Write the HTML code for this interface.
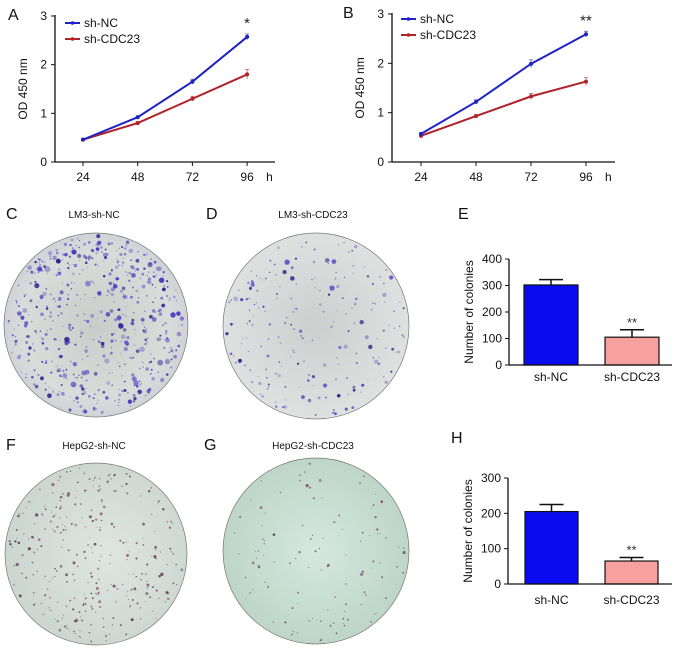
<!DOCTYPE html>
<html><head><meta charset="utf-8"><style>
html,body{margin:0;padding:0;background:#fff;}
svg{display:block;font-family:"Liberation Sans",Arial,sans-serif;}
</style></head><body>
<svg id="fig" width="677" height="649" viewBox="0 0 677 649" xmlns="http://www.w3.org/2000/svg">
<defs>
<radialGradient id="gC" cx="50%" cy="50%" r="50%"><stop offset="0" stop-color="#c9ccc9"/><stop offset="0.8" stop-color="#dadcda"/><stop offset="1" stop-color="#d0d2d8"/></radialGradient>
<radialGradient id="gD" cx="50%" cy="50%" r="50%"><stop offset="0" stop-color="#cdcfcf"/><stop offset="1" stop-color="#dfe0e0"/></radialGradient>
<radialGradient id="gF" cx="55%" cy="50%" r="50%"><stop offset="0" stop-color="#dfe6e1"/><stop offset="1" stop-color="#cdd7d1"/></radialGradient>
<radialGradient id="gG" cx="50%" cy="50%" r="50%"><stop offset="0" stop-color="#d6e8de"/><stop offset="1" stop-color="#bdd6c8"/></radialGradient>
</defs>
<g id="root"></g>
</svg>
<script>
// Panel A data
const hours = ["24","48","72","96"];
const aNC = [0.46, 0.92, 1.65, 2.57];
const aNCerr = [0.02, 0.03, 0.05, 0.06];
const aKD = [0.46, 0.80, 1.30, 1.80];
const aKDerr = [0.02, 0.03, 0.05, 0.10];
// Panel B data
const bNC = [0.57, 1.22, 1.99, 2.59];
const bNCerr = [0.02, 0.04, 0.08, 0.06];
const bKD = [0.53, 0.93, 1.33, 1.63];
const bKDerr = [0.02, 0.03, 0.06, 0.08];
const odTicks = [0, 1, 2, 3];
// Panels E and H data
const groups = ["sh-NC", "sh-CDC23"];
const eVals = [302, 105];
const eErr = [20, 28];
const eTicks = [0, 100, 200, 300, 400];
const hVals = [205, 65];
const hErr = [20, 10];
const hTicks = [0, 100, 200, 300];

const NS = "http://www.w3.org/2000/svg";
const root = document.getElementById('root');
function mk(tag, attrs, parent, txt){
  const e = document.createElementNS(NS, tag);
  for (const k in attrs) e.setAttribute(k, attrs[k]);
  if (txt !== undefined) e.textContent = txt;
  (parent || root).appendChild(e);
  return e;
}
function label(x, y, t, name, size, anchor){
  const e = mk('text', {x:x, y:y, 'font-size':size||12, 'text-anchor':anchor||'start', fill:'#111'}, root, t);
  
  
  return e;
}

function lineChart(id, ax0, axEnd, y0, y3, xPos, nc, ncE, kd, kdE, star, legX, legY){
  const g = mk('g', {});
  
  
  const ys = v => y0 + (y3 - y0) * v / 3;
  const xs = i => xPos[0] + (xPos[1] - xPos[0]) * i;
  mk('line', {x1:ax0, y1:y3-1, x2:ax0, y2:y0, stroke:'#111', 'stroke-width':1.3}, g);
  mk('line', {x1:ax0, y1:y0, x2:axEnd, y2:y0, stroke:'#111', 'stroke-width':1.3}, g);
  odTicks.forEach(t => {
    mk('line', {x1:ax0-4, y1:ys(t), x2:ax0, y2:ys(t), stroke:'#111'}, g);
    const tl = mk('text', {x:ax0-8, y:ys(t)+4, 'font-size':12, 'text-anchor':'end', fill:'#111'}, g, String(t));
    
    
  });
  hours.forEach((h, i) => {
    mk('line', {x1:xs(i), y1:y0, x2:xs(i), y2:y0+4, stroke:'#111'}, g);
    const tl = mk('text', {x:xs(i), y:y0+19, 'font-size':12, 'text-anchor':'middle', fill:'#111'}, g, h);
    
    
  });
  const hl = mk('text', {x:xs(3)+19, y:y0+19, 'font-size':12, fill:'#111'}, g, 'h');
  
  
  const yt = mk('text', {x:0, y:0, 'font-size':12, 'text-anchor':'middle', fill:'#111', transform:`translate(${ax0-28},${(y0+y3)/2}) rotate(-90)`}, g, 'OD 450 nm');
  
  
  [[kd, kdE, '#b22028', 'sh-cdc23'], [nc, ncE, '#1f22c4', 'sh-nc']].forEach(([vals, err, col, nm]) => {
    const pts = vals.map((v, i) => xs(i) + ',' + ys(v)).join(' ');
    const pl = mk('polyline', {points:pts, fill:'none', stroke:col, 'stroke-width':2}, g);
    
    
    vals.forEach((v, i) => {
      mk('line', {x1:xs(i), y1:ys(v+err[i]), x2:xs(i), y2:ys(v-err[i]), stroke:col, 'stroke-width':0.8, opacity:0.7}, g);
      mk('line', {x1:xs(i)-2, y1:ys(v+err[i]), x2:xs(i)+2, y2:ys(v+err[i]), stroke:col, 'stroke-width':0.8, opacity:0.7}, g);
      const p = mk('circle', {cx:xs(i), cy:ys(v), r:2, fill:col}, g);
      
      
    });
  });
  const st = mk('text', {x:xs(3), y:ys(nc[3]+ncE[3])-6, 'font-size':15, 'text-anchor':'middle', fill:'#222'}, g, star);
  
  
  [['sh-NC', '#1f22c4', 0], ['sh-CDC23', '#b22028', 16]].forEach(([t, col, dy]) => {
    mk('line', {x1:legX, y1:legY+dy, x2:legX+15, y2:legY+dy, stroke:col, 'stroke-width':2}, g);
    mk('circle', {cx:legX+7.5, cy:legY+dy, r:1.8, fill:col}, g);
    const le = mk('text', {x:legX+19, y:legY+dy+4, 'font-size':12, fill:'#111'}, g, t);
    
    
  });
}

function barChart(id, ax0, axEnd, y0, yTop, maxV, ticks, vals, err, barX, barW, labY){
  const g = mk('g', {});
  
  
  const ys = v => y0 + (yTop - y0) * v / maxV;
  const cols = ['#0b0bf0', '#f8a0a0'];
  vals.forEach((v, i) => {
    const b = mk('rect', {x:barX[i], y:ys(v), width:barW, height:y0-ys(v), fill:cols[i], stroke:'#111', 'stroke-width':1.2}, g);
    
    
    const cx = barX[i] + barW/2;
    mk('line', {x1:cx, y1:ys(v), x2:cx, y2:ys(v+err[i]), stroke:'#111', 'stroke-width':1.5}, g);
    mk('line', {x1:cx-12, y1:ys(v+err[i]), x2:cx+12, y2:ys(v+err[i]), stroke:'#111', 'stroke-width':1.5}, g);
    const xl = mk('text', {x:cx, y:labY, 'font-size':12, 'text-anchor':'middle', fill:'#111'}, g, groups[i]);
    
    
    if (i === 1) {
      const st = mk('text', {x:cx, y:ys(v+err[i])-3, 'font-size':13, 'text-anchor':'middle', fill:'#333'}, g, '**');
      
      
    }
  });
  mk('line', {x1:ax0, y1:yTop, x2:ax0, y2:y0, stroke:'#111', 'stroke-width':1.3}, g);
  mk('line', {x1:ax0, y1:y0, x2:axEnd, y2:y0, stroke:'#111', 'stroke-width':1.3}, g);
  ticks.forEach(t => {
    mk('line', {x1:ax0-4, y1:ys(t), x2:ax0, y2:ys(t), stroke:'#111'}, g);
    const tl = mk('text', {x:ax0-7, y:ys(t)+4, 'font-size':12, 'text-anchor':'end', fill:'#111'}, g, String(t));
    
    
  });
  const yt = mk('text', {x:0, y:0, 'font-size':12, 'text-anchor':'middle', fill:'#111', transform:`translate(${ax0-36},${(y0+yTop)/2}) rotate(-90)`}, g, 'Number of colonies');
  
  
}

lineChart('panel-a', 55, 275, 162, 16, [83, 137.7], aNC, aNCerr, aKD, aKDerr, '*', 65, 23);
lineChart('panel-b', 392, 615, 162, 14, [421, 476], bNC, bNCerr, bKD, bKDerr, '**', 401, 19);
barChart('panel-e', 509, 672, 365, 259, 400, eTicks, eVals, eErr, [524, 605], 54, 381);
barChart('panel-h', 508, 672, 584, 478, 300, hTicks, hVals, hErr, [525, 605], 53, 604);

// Plate photos (decorative)
let seed = 7;
function rnd(){ seed = (seed * 16807) % 2147483647; return seed / 2147483647; }
function plate(name, cx, cy, r, fill, n, dotCols, maxR, edgeBias){
  const g = mk('g', {});
  
  
  mk('circle', {cx:cx, cy:cy, r:r, fill:fill, stroke:'#777', 'stroke-width':0.7}, g);
  for (let i = 0; i < n; i++) {
    let a = rnd() * Math.PI * 2;
    let d = Math.pow(rnd(), edgeBias) * (r - 3);
    const col = dotCols[Math.floor(rnd() * dotCols.length)];
    mk('circle', {cx:cx + d*Math.cos(a), cy:cy + d*Math.sin(a), r:0.5 + rnd()*rnd()*maxR, fill:col, opacity:0.5 + rnd()*0.5}, g);
  }
}
plate('plate-lm3-sh-nc', 96, 325, 92, 'url(#gC)', 560, ['#4a3cc0', '#6a5cc8', '#2a2490', '#8a80c8'], 2.6, 0.4);
plate('plate-lm3-sh-cdc23', 316, 326, 93, 'url(#gD)', 220, ['#4a3cc0', '#6a5cc8', '#2a2490', '#9890c8'], 2.2, 0.45);
plate('plate-hepg2-sh-nc', 96, 554, 91, 'url(#gF)', 300, ['#6a4060', '#8a5070', '#504050'], 1.4, 0.5);
plate('plate-hepg2-sh-cdc23', 316, 551, 93, 'url(#gG)', 110, ['#6a4060', '#504050', '#8a5070'], 1.3, 0.5);

label(8, 20, 'A', 'panel-label-a', 16);
label(343, 18, 'B', 'panel-label-b', 16);
label(6, 219, 'C', 'panel-label-c', 16);
label(206, 219, 'D', 'panel-label-d', 16);
label(458, 219, 'E', 'panel-label-e', 16);
label(6, 450, 'F', 'panel-label-f', 16);
label(204, 450, 'G', 'panel-label-g', 16);
label(451, 443, 'H', 'panel-label-h', 16);
label(94, 218, 'LM3-sh-NC', 'plate-title-lm3-sh-nc', 10, 'middle');
label(313, 218, 'LM3-sh-CDC23', 'plate-title-lm3-sh-cdc23', 10, 'middle');
label(94, 449, 'HepG2-sh-NC', 'plate-title-hepg2-sh-nc', 10, 'middle');
label(313, 449, 'HepG2-sh-CDC23', 'plate-title-hepg2-sh-cdc23', 10, 'middle');
</script>
</body></html>
